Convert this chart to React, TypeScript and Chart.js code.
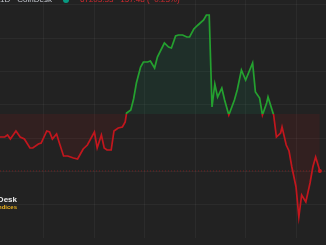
import React, { useEffect, useRef } from 'react';
import { Chart, registerables } from 'chart.js';

Chart.register(...registerables);

// time in minutes (12:00 = 720)
const TIMES = [
  560, 580, 590, 600, 620, 635, 650, 670, 680, 700, 710, 730, 740, 750, 765, 775, 790, 805, 825, 840,
  850, 860, 875, 900, 910, 925, 935, 945, 960, 970, 985, 1000, 1010, 1015, 1030, 1040, 1050, 1065, 1075, 1090,
  1100, 1115, 1125, 1150, 1165, 1175, 1190, 1200, 1215, 1230, 1240, 1255, 1270, 1290, 1300, 1310, 1320, 1330, 1340, 1355,
  1365, 1380, 1400, 1410, 1425, 1440, 1465, 1475, 1490, 1500, 1515, 1520, 1540, 1550, 1565, 1570, 1585, 1595, 1605, 1620,
  1630, 1640, 1655, 1670, 1680, 1690, 1705,
];
const PRICES = [
  67407, 67407, 67419, 67395, 67443, 67407, 67395, 67341, 67341, 67365, 67371, 67443, 67437, 67395, 67425, 67371, 67293, 67293, 67281, 67275,
  67305, 67335, 67359, 67437, 67341, 67419, 67341, 67329, 67329, 67443, 67461, 67467, 67497, 67551, 67569, 67635, 67731, 67827, 67857, 67857,
  67863, 67821, 67887, 67971, 67947, 67941, 68013, 68019, 68019, 68007, 68007, 68055, 68079, 68109, 68139, 68139, 67587, 67725, 67647, 67701,
  67629, 67539, 67629, 67689, 67809, 67749, 67851, 67677, 67641, 67539, 67611, 67647, 67539, 67407, 67431, 67467, 67359, 67323, 67227, 67107,
  66927, 67059, 67017, 67131, 67227, 67287, 67203.33,
];
const BASELINE = 67545;
const LAST_PRICE = 67203.33;
const X_TICKS = [720, 900, 1080, 1260, 1440, 1620];
const Y_GRID = [67000, 67200, 67400, 67600, 67800, 68000, 68200];
const X_MIN = 563;
const X_MAX = 1727;
const Y_MIN = 66801;
const Y_MAX = 68229;
const HEADER_SYMBOL = 'Bitcoin / U.S. Dollar · 1D · CoinDesk';
const HEADER_QUOTE = '67203.33 −157.48 (−0.23%)';
const LOGO_TOP = 'CoinDesk';
const LOGO_BOTTOM = 'Indices';

const GREEN = '#24a12f';
const RED = '#c3161d';
const GRID = 'rgba(255,255,255,0.045)';
const FONT = '"Liberation Sans", Arial, sans-serif';

function lineGradient(chart: any) {
  const area = chart.chartArea;
  const y = chart.scales?.y;
  if (!area || !y) return GREEN;
  const yb = y.getPixelForValue(BASELINE);
  const g = chart.ctx.createLinearGradient(0, area.top, 0, area.bottom);
  const stop = Math.min(1, Math.max(0, (yb - area.top) / (area.bottom - area.top)));
  g.addColorStop(0, GREEN);
  g.addColorStop(stop, GREEN);
  g.addColorStop(stop, RED);
  g.addColorStop(1, RED);
  return g;
}

function timeLabel(v: number) {
  const h = Math.floor(v / 60) % 24;
  return `${String(h).padStart(2, '0')}:00`;
}

export default function App() {
  const ref = useRef<HTMLCanvasElement>(null);
  useEffect(() => {
    const canvas = ref.current!;
    const chart = new Chart(canvas, {
      type: 'line',
      data: {
        datasets: [
          {
            data: TIMES.map((t, i) => ({ x: t, y: PRICES[i] })),
            borderWidth: 1.7,
            borderColor: (c: any) => lineGradient(c.chart),
            fill: {
              target: { value: BASELINE },
              above: 'rgba(20,130,90,0.15)',
              below: 'rgba(200,20,20,0.1)',
            },
            pointRadius: (c: any) => (c.dataIndex === TIMES.length - 1 ? 2 : 0),
            pointBackgroundColor: RED,
            pointBorderWidth: 0,
            tension: 0,
          } as any,
          {
            data: [
              { x: X_MIN, y: LAST_PRICE },
              { x: X_MAX, y: LAST_PRICE },
            ],
            borderColor: 'rgba(190,30,30,0.5)',
            borderWidth: 1,
            borderDash: [1, 2],
            pointRadius: 0,
            fill: false,
          },
        ],
      },
      options: {
        responsive: false,
        animation: false,
        devicePixelRatio: 1,
        layout: { padding: 0, autoPadding: false },
        plugins: { legend: { display: false }, tooltip: { enabled: false } },
        scales: {
          x: {
            type: 'linear',
            min: X_MIN,
            max: X_MAX,
            afterBuildTicks: (s: any) => {
              s.ticks = X_TICKS.map((v) => ({ value: v }));
            },
            afterFit: (s: any) => {
              s.height = 18;
              s.paddingLeft = 0;
              s.paddingRight = 0;
            },
            grid: { color: GRID, drawTicks: false },
            border: { display: false },
            ticks: {
              autoSkip: false,
              maxRotation: 0,
              padding: 5,
              color: '#7b7e87',
              font: { size: 9, family: FONT },
              callback: (v: any) => timeLabel(Number(v)),
            },
          },
          y: {
            type: 'linear',
            min: Y_MIN,
            max: Y_MAX,
            afterBuildTicks: (s: any) => {
              s.ticks = Y_GRID.map((v) => ({ value: v }));
            },
            afterFit: (s: any) => {
              s.width = 0;
              s.paddingTop = 0;
              s.paddingBottom = 0;
            },
            grid: { color: GRID, drawTicks: false },
            border: { display: false },
            ticks: { display: false },
          },
        },
      } as any,
    });
    return () => chart.destroy();
  }, []);

  return (
    <div
      style={{
        position: 'fixed',
        left: 0,
        top: 0,
        width: 326,
        height: 245,
        overflow: 'hidden',
        background: '#222222',
        fontFamily: FONT,
      }}
    >
      <canvas ref={ref} width={326} height={256} style={{ position: 'absolute', left: 0, top: 0, display: 'block' }} />
      <div
        style={{
          position: 'absolute',
          right: 326 - 52,
          top: -5,
          fontSize: 8,
          lineHeight: '10px',
          color: '#c3c6ce',
          whiteSpace: 'nowrap',
        }}
      >
        {HEADER_SYMBOL}
      </div>
      <div
        style={{
          position: 'absolute',
          left: 63,
          top: -3,
          width: 6,
          height: 6,
          borderRadius: '50%',
          background: '#089981',
        }}
      />
      <div
        style={{
          position: 'absolute',
          left: 80,
          top: -5,
          fontSize: 8,
          lineHeight: '10px',
          color: '#d42a2f',
          whiteSpace: 'nowrap',
        }}
      >
        {HEADER_QUOTE}
      </div>
      <div
        style={{
          position: 'absolute',
          right: 326 - 17,
          top: 195,
          fontSize: 8,
          lineHeight: '10px',
          fontWeight: 700,
          color: '#ececec',
          whiteSpace: 'nowrap',
        }}
      >
        {LOGO_TOP}
      </div>
      <div
        style={{
          position: 'absolute',
          right: 326 - 17,
          top: 203,
          fontSize: 6,
          lineHeight: '8px',
          fontWeight: 700,
          color: '#e9b020',
          whiteSpace: 'nowrap',
        }}
      >
        {LOGO_BOTTOM}
      </div>
    </div>
  );
}
